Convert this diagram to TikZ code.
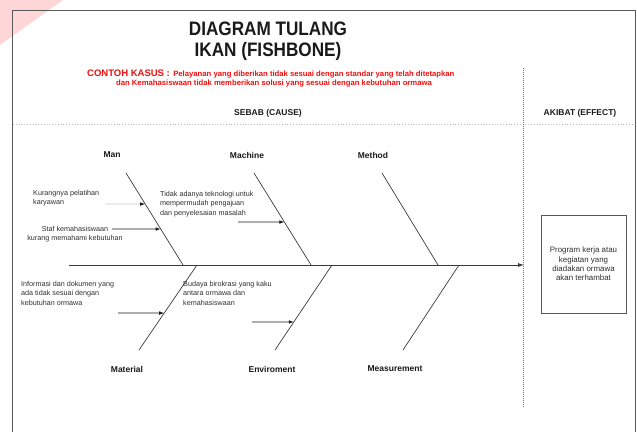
\documentclass[tikz,border=0pt]{standalone}
\usepackage{fontspec}
\setmainfont{Liberation Sans}
\newfontfamily\narrowsans[FakeStretch=0.88]{Liberation Sans}
\usetikzlibrary{arrows.meta,calc}
\definecolor{ink}{HTML}{1A1A1A}
\definecolor{notegray}{HTML}{2E2E2E}
\definecolor{frame}{HTML}{5A5A5A}
\definecolor{bone}{HTML}{3A3A3A}
\definecolor{dots}{HTML}{BDBDBD}
\definecolor{darkdots}{HTML}{6E6E6E}
\definecolor{kasus}{HTML}{F20D0D}
\definecolor{blush}{HTML}{FFD6D8}
\definecolor{pale}{HTML}{C8C8C8}

\begin{document}
\begin{tikzpicture}[
  x=1pt, y=-1pt,
  font=\rmfamily,
  title/.style={font=\narrowsans\bfseries\fontsize{19.5}{20.5}\selectfont, text=ink, align=center, inner sep=0pt},
  redbig/.style={font=\bfseries\fontsize{9.5}{11}\selectfont, text=kasus, inner sep=0pt},
  redsmall/.style={font=\bfseries\fontsize{7.7}{10}\selectfont, text=kasus, inner sep=0pt},
  head/.style={font=\bfseries\fontsize{8.5}{10}\selectfont, text=ink, inner sep=0pt},
  label/.style={font=\bfseries\fontsize{8.5}{10}\selectfont, text=ink, inner sep=0pt},
  note/.style={font=\fontsize{7.2}{9.5}\selectfont, text=notegray, inner sep=0pt, align=left},
  effectbox/.style={draw=frame, thick, fill=white, minimum width=85pt, minimum height=98pt,
    font=\fontsize{7.9}{9.3}\selectfont, text=notegray, align=center, inner sep=2pt},
  bonestyle/.style={draw=bone, line width=0.7pt},
  spine/.style={-{Latex[length=6pt,width=4pt]}, draw=bone, line width=0.8pt},
  causearrow/.style={-{Latex[length=5pt,width=3.6pt]}, draw=ink, line width=0.7pt}
]

\useasboundingbox (0,0) rectangle (637,432);
\fill[blush] (0,0) -- (63,0) -- (0,45) -- cycle;
\draw[frame, line width=1pt] (12.5,432) -- (12.5,10) -- (635,10) -- (635,432);

\node[title] (title) at (268,41) {DIAGRAM TULANG\\IKAN (FISHBONE)};
\node[redbig, anchor=base west] (kasus) at (87,76) {CONTOH KASUS :};
\node[redsmall, anchor=base west] (kasus1) at ([xshift=3pt]kasus.base east) {Pelayanan yang diberikan tidak sesuai dengan standar yang telah ditetapkan};
\node[redsmall] (kasus2) at (274,84) {dan Kemahasiswaan tidak memberikan solusi yang sesuai dengan kebutuhan ormawa};

\node[head] (sebab) at (268,113) {SEBAB (CAUSE)};
\node[head] (akibat) at (580,113) {AKIBAT (EFFECT)};
\draw[dots, dotted, line width=0.8pt] (13,124) -- (634,124);
\draw[darkdots, densely dotted, line width=1pt] (523,68) -- (523,407);

\coordinate (tail) at (69,265);
\coordinate (tip) at (524,265);
\draw[spine] (tail) -- (tip);

\coordinate (manTop) at (126,173);
\coordinate (manEnd) at (183,265);
\coordinate (machineTop) at (254,173);
\coordinate (machineEnd) at (311,265);
\coordinate (methodTop) at (382,173);
\coordinate (methodEnd) at (438,265);
\coordinate (materialEnd) at (197,265);
\coordinate (materialTop) at (139,350);
\coordinate (enviroEnd) at (332,265);
\coordinate (enviroTop) at (275,350);
\coordinate (measureEnd) at (459,265);
\coordinate (measureTop) at (403,350);

\draw[bonestyle] (manTop) -- (manEnd);
\draw[bonestyle] (machineTop) -- (machineEnd);
\draw[bonestyle] (methodTop) -- (methodEnd);
\draw[bonestyle] (materialEnd) -- (materialTop);
\draw[bonestyle] (enviroEnd) -- (enviroTop);
\draw[bonestyle] (measureEnd) -- (measureTop);

\node[label] (man) at (112,155) {Man};
\node[label] (machine) at (247,155) {Machine};
\node[label] (method) at (373,155) {Method};
\node[label] (material) at (127,369) {Material};
\node[label] (enviro) at (272,369) {Enviroment};
\node[label] (measure) at (395,369) {Measurement};

\node[note, anchor=west] (n1) at (33,198) {Kurangnya pelatihan\\karyawan};
\node[note, align=center] (n2) at (75,234) {Staf kemahasiswaan\\kurang memahami kebutuhan};
\node[note, anchor=west] (n3) at (160,204) {Tidak adanya teknologi untuk\\mempermudah pengajuan\\dan penyelesaian masalah};
\node[note, anchor=west] (n4) at (21,293) {Informasi dan dokumen yang\\ada tidak sesuai dengan\\kebutuhan ormawa};
\node[note, anchor=west] (n5) at (183,293) {Budaya birokrasi yang kaku\\antara ormawa dan\\kemahasiswaan};

\coordinate (a1) at (105,204);
\coordinate (a2) at (112,229);
\coordinate (a3) at (238,222);
\coordinate (a4) at (118,313);
\coordinate (a5) at (252,322);
\draw[causearrow, draw=pale, -{Latex[length=5pt,width=3.6pt,color=ink]}] (a1) -- ($(manTop)!0.337!(manEnd)$);
\draw[causearrow] (a2) -- ($(manTop)!0.609!(manEnd)$);
\draw[causearrow] (a3) -- ($(machineTop)!0.533!(machineEnd)$);
\draw[causearrow] (a4) -- ($(materialEnd)!0.565!(materialTop)$);
\draw[causearrow] (a5) -- ($(enviroEnd)!0.67!(enviroTop)$);

\node[effectbox] (effect) at (583.5,264) {Program kerja atau\\kegiatan yang\\diadakan ormawa\\akan terhambat};

\end{tikzpicture}
\end{document}
